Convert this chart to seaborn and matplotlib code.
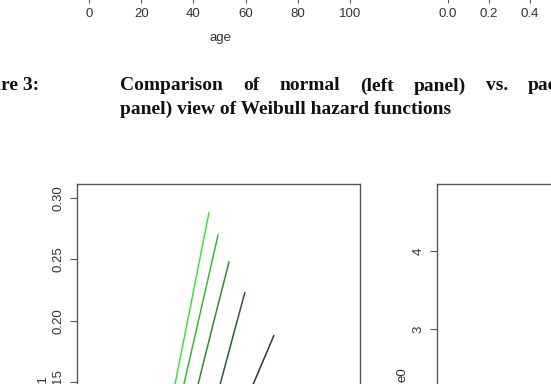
import numpy as np
import pandas as pd
import matplotlib
matplotlib.use("Agg")
import matplotlib.pyplot as plt
import seaborn as sns

# values
top_age_ticks = [0, 20, 40, 60, 80, 100]
top_right_ticks = [0.0, 0.2, 0.4]
caption_lead = "Figure 3:"
caption_line1 = ["Comparison", "of", "normal", "(left", "panel)", "vs.",
                 "pace-adjusted", "(right"]
caption_line2 = "panel) view of Weibull hazard functions"

# five Weibull hazards, left panel (age, hazard)
line_ages = [
    [34, 39.5, 46, 53.2],
    [37, 43.1, 50, 56.9],
    [42, 48.8, 55, 61.3],
    [50, 57.7, 63, 67.7],
    [62, 71.0, 75, 79.4],
]
line_hazards = [
    [0.095, 0.148, 0.214, 0.288],
    [0.095, 0.148, 0.209, 0.270],
    [0.094, 0.148, 0.198, 0.248],
    [0.091, 0.148, 0.188, 0.223],
    [0.106, 0.148, 0.167, 0.188],
]
line_names = ["w1", "w2", "w3", "w4", "w5"]
line_colors = ["#3ee23e", "#34bb34", "#2c8d2c", "#2b5c2b", "#2f3a30"]

left_yticks = [0.05, 0.10, 0.15, 0.20, 0.25, 0.30]
right_yticks = [1, 2, 3, 4]

sns.set_style("ticks")
plt.rcParams["font.family"] = ["Liberation Sans", "DejaVu Sans"]

W, H = 551, 384
fig = plt.figure(figsize=(W / 100, H / 100), dpi=100)

def box(l, t, r, b):
    # pixel box -> figure rect
    return [l / W, 1 - b / H, (r - l) / W, (b - t) / H]

ink = "#333333"
edge = "#555555"

# ---- top panels, only their x axes peek in ----
ax_t1 = fig.add_axes(box(60, -160, 380, -4))
ax_t1.set_xlim((60 - 89) / 2.61, (380 - 89) / 2.61)
ax_t1.set_xticks(top_age_ticks)
ax_t1.set_yticks([])
for s in ax_t1.spines.values():
    s.set_visible(False)
ax_t1.tick_params(axis="x", length=5, width=0.8, color=edge, labelsize=9.5,
                  labelcolor=ink, pad=3.5)
ax_t1.set_xlabel("age", fontsize=9.5, color=ink, labelpad=9)

ax_t2 = fig.add_axes(box(420, -160, 640, -4))
ax_t2.set_xlim((420 - 448) / 205, (640 - 448) / 205)
ax_t2.set_xticks(top_right_ticks)
ax_t2.set_xticklabels([f"{v:.1f}" for v in top_right_ticks])
ax_t2.set_yticks([])
for s in ax_t2.spines.values():
    s.set_visible(False)
ax_t2.tick_params(axis="x", length=5, width=0.8, color=edge, labelsize=9.5,
                  labelcolor=ink, pad=3.5)

# ---- caption (first line justified like the pdf) ----
cap_kw = dict(family="Liberation Serif", weight="bold", fontsize=14,
              color="#111111", va="baseline")
base1, base2 = 90.5, 113.5
fig.text(39 / W, 1 - base1 / H, caption_lead, ha="right", **cap_kw)
renderer = fig.canvas.get_renderer()
words = [fig.text(0, 1 - base1 / H, w, ha="left", **cap_kw) for w in caption_line1]
widths = [t.get_window_extent(renderer).width for t in words]
gap = (528 - 120 - sum(widths[:6])) / 6
x = 120
for t, w in zip(words, widths):
    t.set_x(x / W)
    x += w + gap
fig.text(120 / W, 1 - base2 / H, caption_line2, ha="left", **cap_kw)

# ---- left panel: normal view ----
rows = []
for name, ages, hz in zip(line_names, line_ages, line_hazards):
    for a, h in zip(ages, hz):
        rows.append({"age": a, "hazard": h, "line": name})
df = pd.DataFrame(rows)

ax_l = fig.add_axes(box(77, 184, 360, 534))
sns.lineplot(data=df, x="age", y="hazard", hue="line", palette=line_colors,
             linewidth=1.1, legend=False, ax=ax_l, sort=False)
ax_l.set_xlim(0, 283 / 2.48)
ax_l.set_ylim(0.30 - 336 / 1226.7, 0.30 + 14 / 1226.7)
ax_l.set_yticks(left_yticks)
ax_l.set_yticklabels([f"{v:.2f}" for v in left_yticks], rotation=90, va="center")
ax_l.set_xlabel("")
ax_l.set_ylabel("")
ax_l.set_xticks([])

# ---- right panel: pace-adjusted view (only the empty top shows) ----
ax_r = fig.add_axes(box(437, 184, 700, 534))
ax_r.set_xlim(0, 1)
ax_r.set_ylim(3 - 205 / 78, 4 + 67 / 78)
ax_r.set_yticks(right_yticks)
ax_r.set_yticklabels([str(v) for v in right_yticks], rotation=90, va="center")
ax_r.set_xticks([])

for ax in (ax_l, ax_r):
    for s in ax.spines.values():
        s.set_visible(True)
        s.set_color(edge)
        s.set_linewidth(1.0)
    ax.tick_params(axis="y", length=5, width=0.8, color=edge, labelsize=9.5,
                   labelcolor=ink, pad=4)

fig.text(43 / W, 1 - 375 / H, "h1", rotation=90, ha="center", va="top",
         fontsize=9.5, color=ink)
fig.text(403 / W, 1 - 367 / H, "e0", rotation=90, ha="center", va="top",
         fontsize=9.5, color=ink)

fig.savefig("out.png", dpi=100, facecolor="white")
